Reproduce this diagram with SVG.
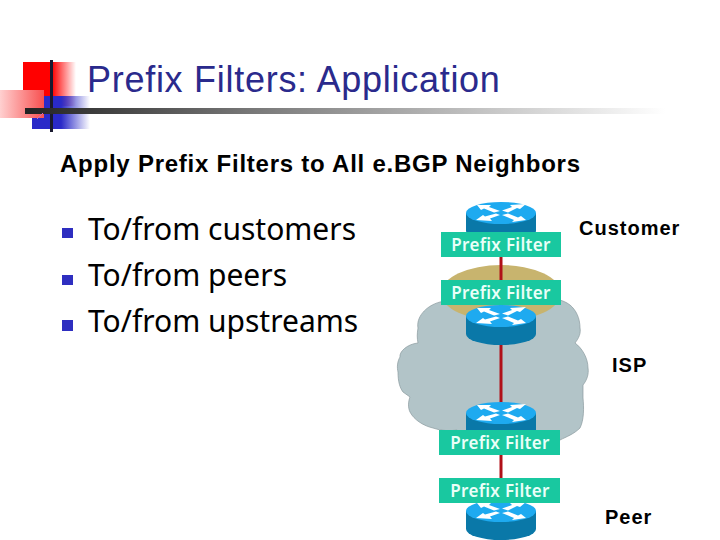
<svg xmlns="http://www.w3.org/2000/svg" width="720" height="540" viewBox="0 0 720 540">
<style>
text{font-family:"Liberation Sans",Arial,sans-serif}
.title{font-size:36px;fill:#2a2a8c;letter-spacing:.72px}
.sub{font-size:24px;font-weight:bold;fill:#000;letter-spacing:.76px}
.li{font-family:"Noto Sans","Liberation Sans",sans-serif;font-size:30px;fill:#000}
.lab{font-size:20px;font-weight:bold;fill:#000;letter-spacing:1px}
.pf{font-family:"Noto Sans","Liberation Sans",sans-serif;font-size:17px;font-weight:600;fill:#eafff8;text-anchor:middle;letter-spacing:.3px}
.band{fill:#19c8a0}
.wire{stroke:#b01018;stroke-width:3;fill:none}
</style>
<defs>
<linearGradient id="r" x1="0" x2="1" y1="0" y2="0"><stop offset="0" stop-color="#f00"/><stop offset=".55" stop-color="#f00"/><stop offset="1" stop-color="#f00" stop-opacity="0"/></linearGradient>
<linearGradient id="b" x1="0" x2="1" y1="0" y2="0"><stop offset="0" stop-color="#2a2ac8"/><stop offset=".5" stop-color="#2a2ac8"/><stop offset="1" stop-color="#2a2ac8" stop-opacity="0"/></linearGradient>
<linearGradient id="p" x1="0" x2="1" y1="0" y2="0"><stop offset="0" stop-color="#ffd0d0"/><stop offset="1" stop-color="#f85050"/></linearGradient>
<linearGradient id="k" x1="0" x2="1" y1="0" y2="0"><stop offset="0" stop-color="#222"/><stop offset=".35" stop-color="#777"/><stop offset="1" stop-color="#fff"/></linearGradient>
<g id="router">
<path d="M-35 0V18A35 11 0 0 0 35 18V0Z" fill="#0a78a8"/>
<ellipse rx="35" ry="11" fill="#1eaaf0"/>
<path d="M-24 -8L-10 -8L-12 -6L-1 -2L-7 -.5L-17 -4.5L-20 -3ZM25 -9L19 -4L16 -5L7 -.5L1 -2.5L11 -6L9 -8ZM-25 7L-18 2L-16 3.5L-5 .5L-1 2L-11 5.5L-9 8ZM25 7L11 9L13 7L1 2L7 .5L17 4.5L20 3Z" fill="#fff"/>
</g>
</defs>
<g id="logo">
<rect x="23" y="62" width="53" height="44" fill="url(#r)"/>
<rect x="32" y="96" width="58" height="33" fill="url(#b)"/>
<rect x="0" y="90" width="44" height="28" fill="url(#p)"/>
<rect x="50" y="60" width="3" height="72" fill="#1a1a30"/>
<rect x="25" y="108" width="640" height="6" fill="url(#k)"/>
<path d="M37 119L43 113" stroke="#c070c0" stroke-width="1"/>
</g>
<text class="title" x="87" y="92">Prefix Filters: Application</text>
<text class="sub" x="60" y="172">Apply Prefix Filters to All e.BGP Neighbors</text>
<g id="bullets" fill="#2e2ec0">
<rect x="62" y="228" width="11" height="10"/>
<rect x="62" y="275" width="11" height="10"/>
<rect x="62" y="320" width="11" height="11"/>
</g>
<text class="li" x="88" y="240">To/from customers</text>
<text class="li" x="88" y="286">To/from peers</text>
<text class="li" x="88" y="332">To/from upstreams</text>
<g id="isp-cloud">
<path d="M440 302C425 306 416 318 418 328C417 334 417 338 418 343C407 344 399 352 400 357C397 362 397 368 398 372C398 382 400 388 403 392L410 397C408 402 408 408 410 412C414 420 424 426 433 428C442 431 450 431 457 430L480 450L550 450L560 440C566 437 574 434 580 428C584 420 584 408 583 398L583 385C587 380 589 374 588 368C588 358 582 348 575 343C579 338 581 333 580 328C580 318 576 310 570 305C566 302 563 301 560 300L500 290Z" fill="#b2c4c8" stroke="#8a9a9e" stroke-width=".7"/>
</g>
<g id="customer-ellipse"><ellipse cx="501" cy="293" rx="60" ry="28" fill="#c8b46e"/></g>
<g id="connectors">
<path class="wire" d="M501 250V490"/>
</g>
<g id="router-customer"><use href="#router" x="501" y="213"/><rect class="band" x="441" y="232" width="120" height="25"/><text class="pf" x="501" y="251">Prefix Filter</text></g>
<g id="router-isp-top"><use href="#router" x="501" y="316"/><rect class="band" x="441" y="280" width="120" height="25"/><text class="pf" x="501" y="299">Prefix Filter</text></g>
<g id="router-isp-bottom"><use href="#router" x="501" y="413"/><rect class="band" x="439" y="430" width="121" height="25"/><text class="pf" x="500" y="449">Prefix Filter</text></g>
<g id="router-peer"><use href="#router" x="501" y="511"/><rect class="band" x="439" y="478" width="121" height="25"/><text class="pf" x="500" y="497">Prefix Filter</text></g>
<text class="lab" x="579" y="235">Customer</text>
<text class="lab" x="612" y="372">ISP</text>
<text class="lab" x="605" y="524">Peer</text>
</svg>
